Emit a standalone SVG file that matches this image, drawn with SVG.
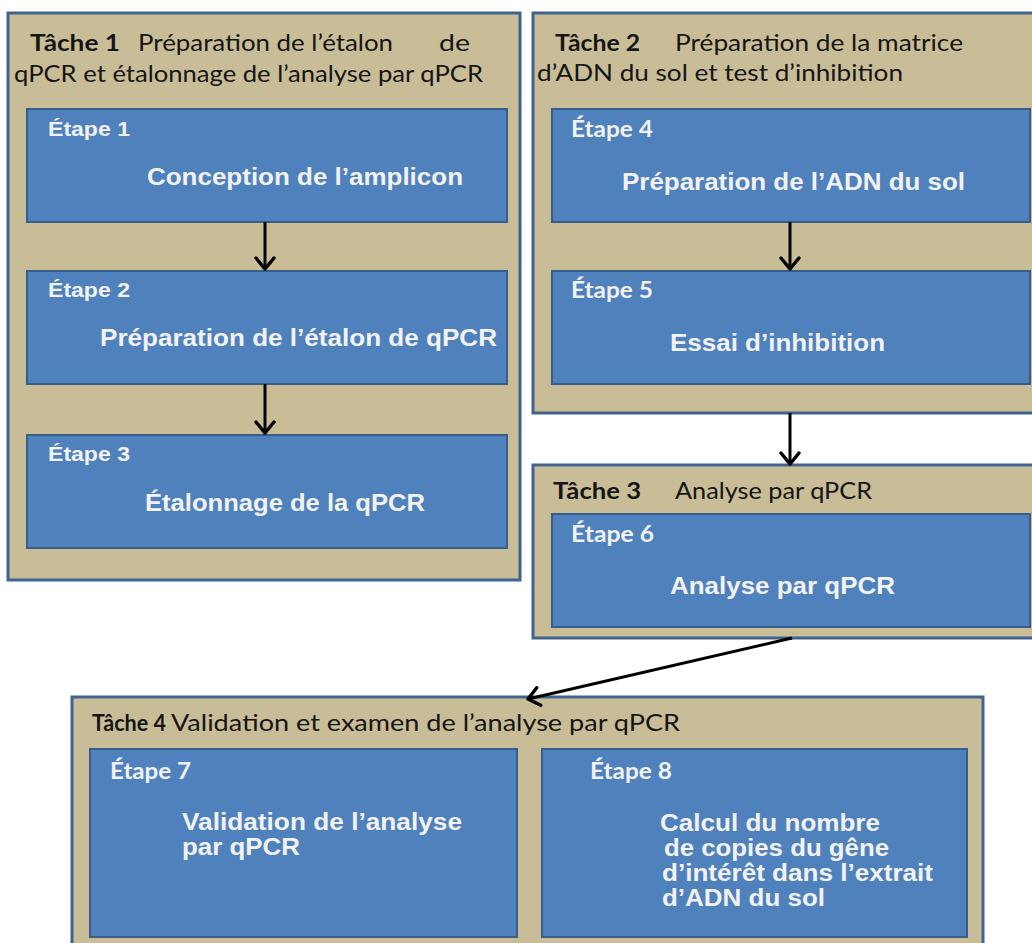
<svg xmlns="http://www.w3.org/2000/svg" width="1032" height="943" viewBox="0 0 1032 943">
<style>
.task{fill:#c9bd98;stroke:#41648f;stroke-width:3}
.step{fill:#4f81bd;stroke:#385d8a;stroke-width:2}
.th{font-family:Lato,"Open Sans","Liberation Sans",sans-serif;font-size:23px;fill:#151515}
.thb{font-weight:bold}
.lbA{font-family:"Liberation Sans",Arial,sans-serif;font-weight:bold;font-size:21px;fill:#f2f2f2}
.lbC{font-family:Lato,"Liberation Sans",sans-serif;font-weight:bold;font-size:22px;fill:#f2f2f2}
.main{font-family:"Liberation Sans",Arial,sans-serif;font-weight:bold;font-size:23px;fill:#f2f2f2}
.conn{stroke:#000;stroke-width:3;fill:none}
</style>
<defs>
<marker id="ah" markerUnits="userSpaceOnUse" markerWidth="24" markerHeight="24" viewBox="-14 -12 16 24" refX="0" refY="0" orient="auto">
<path d="M-11,-9 L0,0 L-11,9" fill="none" stroke="#000" stroke-width="3.5" stroke-linecap="round" stroke-linejoin="round"/>
</marker>
</defs>
<rect width="1032" height="943" fill="#fff"/>

<g id="task1">
<rect class="task" x="8" y="13" width="512" height="567"/>
<text class="th" y="51"><tspan x="30" class="thb" textLength="90" lengthAdjust="spacingAndGlyphs">Tâche 1</tspan><tspan x="138" textLength="255" lengthAdjust="spacingAndGlyphs">Préparation de l’étalon</tspan><tspan x="439" textLength="31" lengthAdjust="spacingAndGlyphs">de</tspan></text>
<text class="th" x="14" y="82" textLength="469" lengthAdjust="spacingAndGlyphs">qPCR et étalonnage de l’analyse par qPCR</text>
</g>

<g id="step1">
<rect class="step" x="27" y="109" width="480" height="113"/>
<text class="lbA" x="48" y="136" textLength="82" lengthAdjust="spacingAndGlyphs">Étape 1</text>
<text class="main" x="147" y="185" textLength="316" lengthAdjust="spacingAndGlyphs">Conception de l’amplicon</text>
</g>

<g id="step2">
<rect class="step" x="27" y="271" width="480" height="113"/>
<text class="lbA" x="48" y="297" textLength="82" lengthAdjust="spacingAndGlyphs">Étape 2</text>
<text class="main" x="100" y="346" textLength="397" lengthAdjust="spacingAndGlyphs">Préparation de l’étalon de qPCR</text>
</g>

<g id="step3">
<rect class="step" x="27" y="435" width="480" height="113"/>
<text class="lbA" x="48" y="461" textLength="82" lengthAdjust="spacingAndGlyphs">Étape 3</text>
<text class="main" x="145" y="511" textLength="280" lengthAdjust="spacingAndGlyphs">Étalonnage de la qPCR</text>
</g>

<g id="task2">
<rect class="task" x="533" y="13" width="510" height="400"/>
<text class="th" y="51"><tspan x="555" class="thb" textLength="85" lengthAdjust="spacingAndGlyphs">Tâche 2</tspan><tspan x="675" textLength="288" lengthAdjust="spacingAndGlyphs">Préparation de la matrice</tspan></text>
<text class="th" x="537" y="81" textLength="366" lengthAdjust="spacingAndGlyphs">d’ADN du sol et test d’inhibition</text>
</g>

<g id="step4">
<rect class="step" x="552" y="109" width="478" height="113"/>
<text class="lbC" x="571" y="137" textLength="82" lengthAdjust="spacingAndGlyphs">Étape 4</text>
<text class="main" x="622" y="190" textLength="343" lengthAdjust="spacingAndGlyphs">Préparation de l’ADN du sol</text>
</g>

<g id="step5">
<rect class="step" x="552" y="271" width="478" height="113"/>
<text class="lbC" x="571" y="298" textLength="82" lengthAdjust="spacingAndGlyphs">Étape 5</text>
<text class="main" x="670" y="351" textLength="215" lengthAdjust="spacingAndGlyphs">Essai d’inhibition</text>
</g>

<g id="task3">
<rect class="task" x="533" y="465" width="510" height="173"/>
<text class="th" y="499"><tspan x="553" class="thb" textLength="88" lengthAdjust="spacingAndGlyphs">Tâche 3</tspan><tspan x="675" textLength="197" lengthAdjust="spacingAndGlyphs">Analyse par qPCR</tspan></text>
</g>

<g id="step6">
<rect class="step" x="552" y="514" width="478" height="113"/>
<text class="lbC" x="571" y="542" textLength="83" lengthAdjust="spacingAndGlyphs">Étape 6</text>
<text class="main" x="670" y="594" textLength="225" lengthAdjust="spacingAndGlyphs">Analyse par qPCR</text>
</g>

<g id="task4">
<rect class="task" x="72" y="697" width="911" height="260"/>
<text class="th" y="731"><tspan x="92" class="thb" textLength="74" lengthAdjust="spacingAndGlyphs">Tâche 4</tspan><tspan x="171" textLength="509" lengthAdjust="spacingAndGlyphs">Validation et examen de l’analyse par qPCR</tspan></text>
</g>

<g id="step7">
<rect class="step" x="90" y="749" width="427" height="188"/>
<text class="lbC" x="110" y="779" textLength="81" lengthAdjust="spacingAndGlyphs">Étape 7</text>
<text class="main" x="182" y="830" textLength="280" lengthAdjust="spacingAndGlyphs">Validation de l’analyse</text>
<text class="main" x="182" y="855" textLength="118" lengthAdjust="spacingAndGlyphs">par qPCR</text>
</g>

<g id="step8">
<rect class="step" x="542" y="749" width="425" height="188"/>
<text class="lbC" x="590" y="779" textLength="82" lengthAdjust="spacingAndGlyphs">Étape 8</text>
<text class="main" x="660" y="831" textLength="220" lengthAdjust="spacingAndGlyphs">Calcul du nombre</text>
<text class="main" x="664" y="856" textLength="225" lengthAdjust="spacingAndGlyphs">de copies du gêne</text>
<text class="main" x="662" y="881" textLength="271" lengthAdjust="spacingAndGlyphs">d’intérêt dans l’extrait</text>
<text class="main" x="662" y="906" textLength="163" lengthAdjust="spacingAndGlyphs">d’ADN du sol</text>
</g>

<g id="connectors">
<line class="conn" x1="265" y1="222" x2="265" y2="269" marker-end="url(#ah)"/>
<line class="conn" x1="265" y1="384" x2="265" y2="433" marker-end="url(#ah)"/>
<line class="conn" x1="790" y1="222" x2="790" y2="269" marker-end="url(#ah)"/>
<line class="conn" x1="790" y1="413" x2="790" y2="464" marker-end="url(#ah)"/>
<line class="conn" x1="792" y1="638" x2="528" y2="699" marker-end="url(#ah)"/>
</g>
</svg>
